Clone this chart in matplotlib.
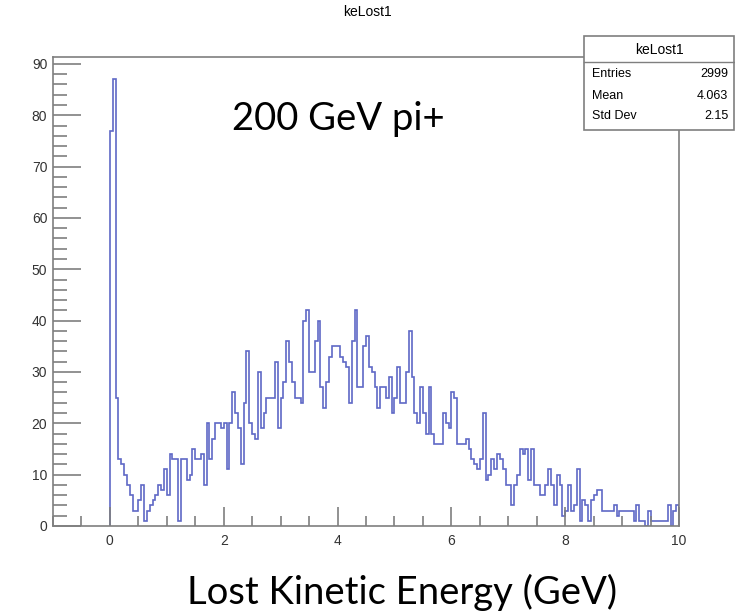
import numpy as np
import matplotlib
matplotlib.use("Agg")
import matplotlib.pyplot as plt
from matplotlib.patches import Rectangle
from matplotlib.lines import Line2D
from matplotlib.ticker import MultipleLocator

# histogram keLost1: 200 bins of 0.05 GeV from 0 to 10
bin_lo = 0.0
bin_hi = 10.0
counts = [
    77, 87, 25, 13, 12, 10, 8, 6, 3, 3,
    5, 8, 1, 3, 4, 5, 6, 8, 7, 11,
    6, 14, 13, 13, 1, 13, 13, 9, 10, 15,
    13, 13, 14, 8, 20, 13, 17, 20, 20, 19,
    20, 11, 20, 26, 22, 19, 12, 24, 34, 20,
    18, 17, 30, 19, 22, 25, 25, 25, 32, 19,
    25, 28, 36, 32, 28, 25, 25, 24, 40, 42,
    30, 30, 36, 40, 27, 23, 28, 33, 35, 35,
    35, 33, 32, 31, 24, 36, 42, 27, 27, 35,
    37, 31, 30, 27, 23, 27, 27, 25, 29, 22,
    25, 31, 24, 24, 30, 38, 29, 22, 20, 27,
    22, 18, 27, 18, 16, 16, 16, 22, 20, 19,
    26, 25, 16, 16, 16, 17, 15, 13, 12, 11,
    13, 22, 9, 10, 13, 11, 14, 13, 11, 8,
    8, 4, 8, 10, 15, 14, 15, 9, 15, 8,
    8, 6, 6, 8, 11, 8, 4, 10, 8, 2,
    3, 8, 3, 4, 11, 1, 5, 4, 1, 5,
    6, 7, 7, 3, 3, 3, 3, 4, 2, 3,
    3, 3, 3, 3, 1, 4, 1, 1, 0, 3,
    1, 1, 1, 1, 1, 1, 4, 0, 3, 4,
]
stat_names = ["Entries", "Mean", "Std Dev"]
stat_values = ["2999", "4.063", "2.15"]
hist_name = "keLost1"

edges = np.linspace(bin_lo, bin_hi, len(counts) + 1)
gray = "#7f7f7f"

fig = plt.figure(figsize=(7.35, 6.13), dpi=100)
ax = fig.add_axes([0.072, 0.142, 0.852, 0.765])
ax.stairs(counts, edges, baseline=0, color="#5f68c6", lw=1.2)

ax.set_xlim(-1, 10)
ax.set_ylim(0, max(counts) * 1.05)
ax.xaxis.set_major_locator(MultipleLocator(2))
ax.xaxis.set_minor_locator(MultipleLocator(0.5))
ax.yaxis.set_major_locator(MultipleLocator(10))
ax.yaxis.set_minor_locator(MultipleLocator(2))
ax.tick_params(which="both", direction="in", color=gray, width=1.2,
               labelsize=10, labelcolor="#333333")
ax.tick_params(axis="x", which="major", length=14, pad=6)
ax.tick_params(axis="x", which="minor", length=7)
ax.tick_params(axis="y", which="major", length=20, pad=4)
ax.tick_params(axis="y", which="minor", length=10)
for lab in ax.get_xticklabels() + ax.get_yticklabels():
    lab.set_fontfamily("Liberation Sans")
for s in ax.spines.values():
    s.set_color(gray)
    s.set_linewidth(1.2)

ax.text(0.455, 0.868, "200 GeV pi+", transform=ax.transAxes, ha="center",
        va="center", fontsize=27.5, family="Lato")
fig.text(0.547, 0.014, "Lost Kinetic Energy (GeV)", ha="center",
         va="baseline", fontsize=27.5, family="Lato")

fig.text(0.5, 0.98, hist_name, ha="center", va="center", fontsize=10,
         family="Liberation Sans")

# stats box
bx0, bx1, by0, by1 = 0.795, 0.999, 0.788, 0.942
fig.add_artist(Rectangle((bx0, by0), bx1 - bx0, by1 - by0,
                         transform=fig.transFigure, facecolor="white",
                         edgecolor=gray, lw=1.2, zorder=5))
sep = 0.899
fig.add_artist(Line2D([bx0, bx1], [sep, sep], transform=fig.transFigure,
                      color=gray, lw=1.0, zorder=6))
fig.text((bx0 + bx1) / 2, 0.918, hist_name, ha="center", va="center",
         fontsize=10, family="Liberation Sans", zorder=7)
row_y = [0.880, 0.844, 0.810]
for name, val, y in zip(stat_names, stat_values, row_y):
    fig.text(bx0 + 0.01, y, name, ha="left", va="center", fontsize=9,
             family="Liberation Sans", zorder=7)
    fig.text(bx1 - 0.008, y, val, ha="right", va="center", fontsize=9,
             family="Liberation Sans", zorder=7)

fig.savefig("out.png", dpi=100)
